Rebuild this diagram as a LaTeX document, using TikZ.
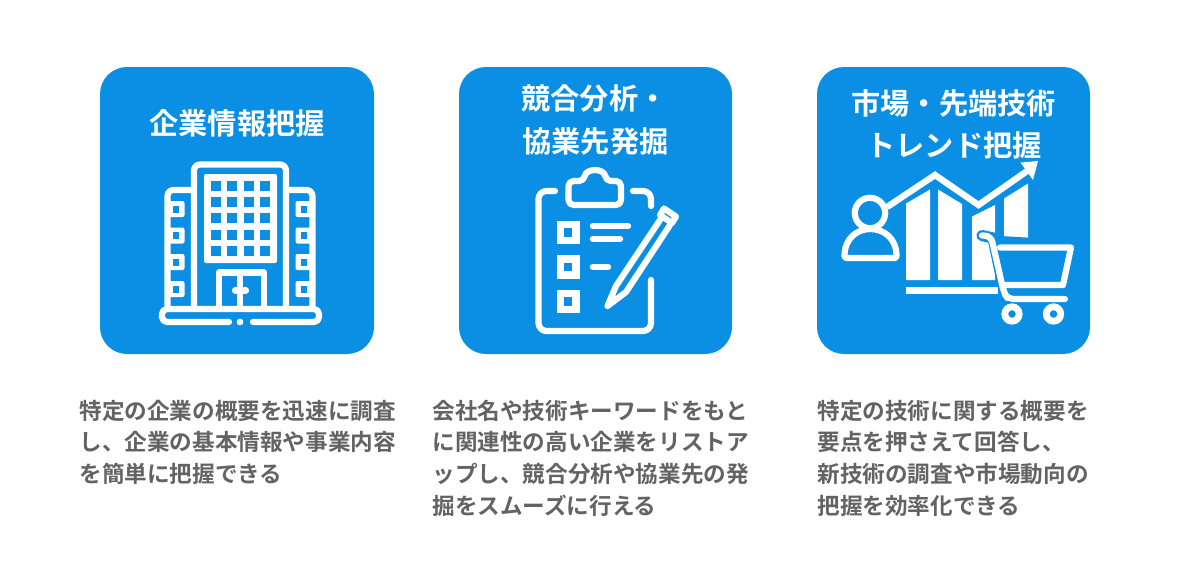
\documentclass[tikz,border=0pt]{standalone}
\usepackage{fontspec}
\setmainfont{Noto Sans CJK JP Bold}
\newfontfamily\titlefont{Noto Sans CJK JP Bold}
\definecolor{cardblue}{HTML}{0A8FE4}
\definecolor{bodygray}{HTML}{636363}
\tikzset{
 x=0.5pt,y=-0.5pt,
 card/.style={fill=cardblue,rounded corners=13.5pt},
 ttl/.style={text=white,font=\titlefont\fontsize{14.6pt}{14.6pt}\selectfont,inner sep=0pt,anchor=west},
 bodyline/.style={text=bodygray,font=\fontsize{11.3pt}{11.3pt}\selectfont,inner sep=0pt,anchor=west},
 ic/.style={draw=white,line width=3.1pt,line join=round,line cap=round},
}
\begin{document}
\begin{tikzpicture}
\useasboundingbox (0,0) rectangle (1200,586);
\fill[white] (0,0) rectangle (1200,586);
\path[card] (100,67) rectangle (374,354);
\path[card] (459,67) rectangle (732,354);
\path[card] (817,67) rectangle (1090,354);
% titles
\node[ttl] (t1) at (149,123) {企業情報把握};
\node[ttl] (t2a) at (521,98) {競合分析・};
\node[ttl] (t2b) at (522,141) {協業先発掘};
\node[ttl] (t3a) at (851,103) {市場・先端技術};
\node[ttl] (t3b) at (866,145) {トレンド把握};
% building
\draw[ic,rounded corners=3pt] (194,306) -- (194,164.5) -- (286,164.5) -- (286,306);
\draw[ic,rounded corners=3pt] (193,190) -- (167.5,190) -- (167.5,306);
\draw[ic,rounded corners=3pt] (287,190) -- (312.5,190) -- (312.5,306);
\fill[white,rounded corners=1pt] (204,174) rectangle (277,263);
\foreach \cx in {210.5,227,243.5,260}{
 \foreach \cy in {180.5,197,213,229.5,245.5}{
  \fill[cardblue] (\cx,\cy) rectangle ++(10,10);
 }
}
\foreach \wy in {209,235.5,262,289}{
 \fill[white,rounded corners=1pt] (168,\wy-8) rectangle (184.5,\wy+8);
 \fill[cardblue] (173,\wy-3.5) rectangle (179,\wy+3.5);
 \fill[white,rounded corners=1pt] (295.5,\wy-8) rectangle (312,\wy+8);
 \fill[cardblue] (301,\wy-3.5) rectangle (307,\wy+3.5);
}
\draw[ic] (219,306) -- (219,272.5) -- (264,272.5) -- (264,306);
\draw[ic] (240,275) -- (240,306);
\draw[ic] (235,290.5) -- (246,290.5);
\draw[ic,rounded corners=2.5pt] (229,322) -- (162,322) -- (162,309) -- (319,309) -- (319,322) -- (253,322);
\fill[white] (240,322) circle (1.7pt);
% clipboard
\draw[ic,rounded corners=4pt] (555,191) -- (538.5,191) -- (538.5,331) -- (651,331) -- (651,280);
\draw[ic,rounded corners=4pt] (633,191) -- (651,191) -- (651,206);
\draw[ic,rounded corners=2.5pt] (568.5,181) -- (584,181) .. controls (586,168) and (604,168) .. (606,181) -- (621,181) -- (621,205) -- (568.5,205) -- cycle;
\foreach \by in {232.5,267,301.5}{
 \draw[draw=white,line width=3.8pt] (560.5,\by-8) rectangle (576,\by+8);
}
\draw[ic,line width=3.2pt] (593,226) -- (628,226);
\draw[ic,line width=3.2pt] (593,239) -- (620,239);
\draw[ic,line width=3.2pt] (593,267) -- (608,267);
\draw[ic] (660,220) -- (616,286) -- (607.5,306) -- (626,292) -- (670,225);
\draw[ic] (664,208.5) -- (676,216.5) -- (672,223) -- (660,215) -- cycle;
% chart
\fill[white] (906,203.5) -- (930,189.5) -- (930,280) -- (906,280) -- cycle;
\fill[white] (938,189.5) -- (962,204) -- (962,280) -- (938,280) -- cycle;
\fill[white] (972,216.5) -- (995,205) -- (995,280) -- (972,280) -- cycle;
\fill[white] (1004,198.5) -- (1028,183.5) -- (1028,242) -- (1004,242) -- cycle;
\fill[white] (906,287) rectangle (998,294);
\draw[draw=white,line width=3.2pt,line join=miter] (887,207) -- (935,175) -- (978.5,205) -- (1030,169);
\fill[white] (1038,161) -- (1020.5,162.5) -- (1033,180) -- cycle;
% person
\draw[ic] (870,213) circle (7.6pt);
\draw[ic,rounded corners=1pt] (844.5,258) .. controls (844.5,220) and (896.5,220) .. (896.5,258) -- cycle;
% cart
\fill[cardblue] (1001,236) -- (1068,240) -- (1062,290) -- (1006,296) -- cycle;
\draw[draw=cardblue,line width=5.6pt,line cap=round,line join=round] (982,235.5) -- (993,238) -- (1005,295);
\draw[ic,rounded corners=3pt] (982,235.5) -- (991,236) -- (1004,293) -- (1008,299) -- (1065,299);
\draw[ic] (1000,247.5) -- (1071,247.5) -- (1063,285) -- (1006,285);
\foreach \wx in {1012,1053.5}{
 \draw[draw=white,line width=3.4pt] (\wx,314) circle (3.6pt);
}
% body text
\node[bodyline] (a1) at (79,411) {特定の企業の概要を迅速に調査};
\node[bodyline] (a2) at (79,442) {し、企業の基本情報や事業内容};
\node[bodyline] (a3) at (79,474) {を簡単に把握できる};
\node[bodyline] (b1) at (432,411) {会社名や技術キーワードをもと};
\node[bodyline] (b2) at (432,442) {に関連性の高い企業をリストア};
\node[bodyline] (b3) at (432,474) {ップし、競合分析や協業先の発};
\node[bodyline] (b4) at (432,506) {掘をスムーズに行える};
\node[bodyline] (c1) at (817,411) {特定の技術に関する概要を};
\node[bodyline] (c2) at (817,442) {要点を押さえて回答し、};
\node[bodyline] (c3) at (817,474) {新技術の調査や市場動向の};
\node[bodyline] (c4) at (817,506) {把握を効率化できる};
\end{tikzpicture}
\end{document}
